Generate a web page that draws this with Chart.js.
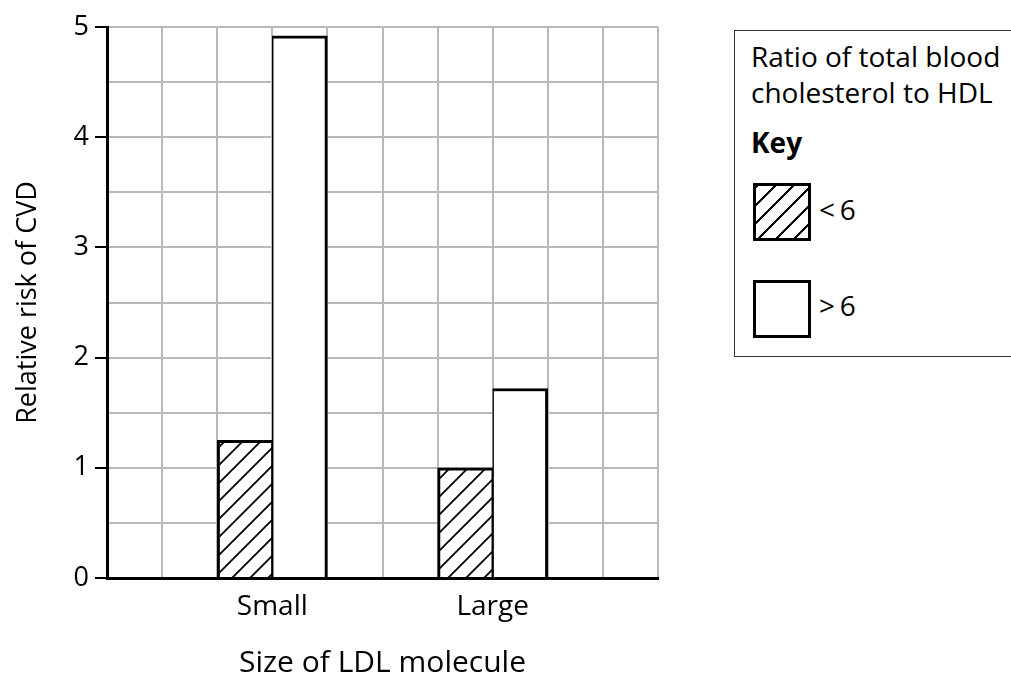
<!DOCTYPE html>
<html>
<head>
<meta charset="utf-8">
<script src="https://cdn.jsdelivr.net/npm/chart.js@4.4.0/dist/chart.umd.min.js"></script>
<style>
  html, body { margin: 0; padding: 0; background: #fff; overflow: hidden; }
  body { width: 1011px; height: 673px; position: relative; font-family: "Open Sans", sans-serif; color: #000; }
  #wrap { position: absolute; left: 0; top: 0; width: 700px; height: 681px; }
  #key { position: absolute; left: 734px; top: 30px; width: 320px; height: 327px; border: 1.5px solid #333; box-sizing: border-box; }
  .txt { position: absolute; font-size: 28px; line-height: 28px; white-space: nowrap; }
  .sw { position: absolute; left: 753px; width: 58px; height: 58px; border: 3px solid #000; box-sizing: border-box; background: #fff; }
  .hatch { background: repeating-linear-gradient(135deg, #000 0 1.6px, #fff 1.6px 12.7px); }
</style>
</head>
<body>
<div id="wrap"><canvas id="grafica"></canvas></div>

<div id="key"></div>
<div class="txt" style="left:751px;top:42px;">Ratio of total blood</div>
<div class="txt" style="left:751px;top:78px;">cholesterol to HDL</div>
<div class="txt" style="left:751px;top:128px;font-weight:bold;">Key</div>
<div class="sw hatch" style="top:183px;"></div>
<div class="txt" id="lbl1" style="left:819px;top:195px;"></div>
<div class="sw" style="top:280px;"></div>
<div class="txt" id="lbl2" style="left:819px;top:291px;"></div>

<script>
// datos
const categorias = ['Small', 'Large'];
const serieMenor = [1.25, 1.0];   // ratio < 6
const serieMayor = [4.92, 1.72];  // ratio > 6
const nombres = ['<\u20096', '>\u20096'];
const yMin = 0, yMax = 5;

document.getElementById('lbl1').textContent = nombres[0];
document.getElementById('lbl2').textContent = nombres[1];

// cada categoria ocupa dos columnas de la cuadricula (10 columnas en total)
const etiquetas = ['', categorias[0], '', categorias[1], ''];
const repartir = arr => [null, arr[0], null, arr[1], null];
const columnas = new Array(10).fill('');

function rayado() {
  const s = 18;
  const c = document.createElement('canvas');
  c.width = s; c.height = s;
  const g = c.getContext('2d');
  g.fillStyle = '#fff';
  g.fillRect(0, 0, s, s);
  g.strokeStyle = '#000';
  g.lineWidth = 1.8;
  g.beginPath();
  g.moveTo(0, s); g.lineTo(s, 0);
  g.moveTo(-s / 2, s / 2); g.lineTo(s / 2, -s / 2);
  g.moveTo(s / 2, s * 1.5); g.lineTo(s * 1.5, s / 2);
  g.stroke();
  return g.createPattern(c, 'repeat');
}

const familia = '"Open Sans", sans-serif';
const gris = '#b9b9b9';

const ctx = document.getElementById('grafica').getContext('2d');
const myChart = new Chart(ctx, {
  type: 'bar',
  data: {
    labels: etiquetas,
    datasets: [
      {
        label: nombres[0],
        data: repartir(serieMenor),
        xAxisID: 'x',
        backgroundColor: rayado(),
        borderColor: '#000',
        borderWidth: { top: 3, left: 3, right: 1.5, bottom: 0 },
        borderSkipped: false
      },
      {
        label: nombres[1],
        data: repartir(serieMayor),
        xAxisID: 'x',
        backgroundColor: '#fff',
        borderColor: '#000',
        borderWidth: { top: 3, left: 1.5, right: 3, bottom: 0 },
        borderSkipped: false
      }
    ]
  },
  options: {
    responsive: true,
    maintainAspectRatio: false,
    animation: false,
    layout: { padding: { left: 0, right: 42, top: 27, bottom: 0 } },
    plugins: { legend: { display: false }, tooltip: { enabled: false } },
    datasets: { bar: { barPercentage: 1, categoryPercentage: 1 } },
    scales: {
      x: {
        type: 'category',
        offset: true,
        grid: { display: true, drawOnChartArea: false, drawTicks: false },
        border: { color: '#000', width: 3, z: 1 },
        ticks: { color: '#000', font: { family: familia, size: 28 }, padding: 12, autoSkip: false, maxRotation: 0 },
        title: { display: true, text: 'Size of LDL molecule', color: '#000', font: { family: familia, size: 30 }, padding: 0 },
        afterFit: s => { s.height = 103; }
      },
      xg: {
        type: 'category',
        labels: columnas,
        position: 'bottom',
        offset: true,
        ticks: { display: false },
        grid: { offset: true, color: gris, lineWidth: 2, drawTicks: false },
        border: { display: false },
        afterFit: s => { s.height = 0; }
      },
      y: {
        min: yMin,
        max: yMax,
        ticks: {
          stepSize: 0.5,
          autoSkip: false,
          color: '#000',
          font: { family: familia, size: 27 },
          padding: 6,
          callback: v => Number.isInteger(v) ? v : ''
        },
        grid: {
          color: gris,
          lineWidth: 2,
          tickLength: 12,
          tickWidth: 2,
          tickColor: c => Number.isInteger(c.tick.value) ? '#000' : 'rgba(0,0,0,0)'
        },
        border: { color: '#000', width: 3, z: 1 },
        title: { display: true, text: 'Relative risk of CVD', color: '#000', font: { family: familia, size: 27 }, padding: { top: 12, bottom: 0 } },
        afterFit: s => { s.width = 107; }
      }
    }
  }
});
</script>
</body>
</html>
